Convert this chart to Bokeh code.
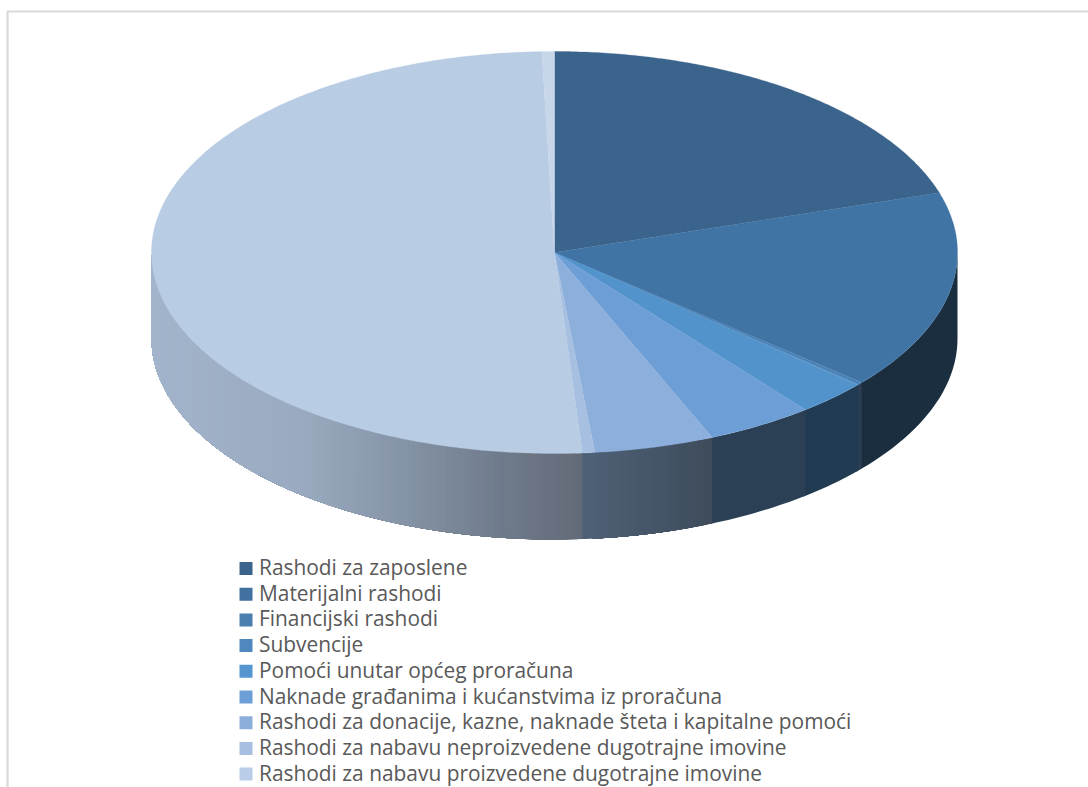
import numpy as np
from bokeh.plotting import figure
from bokeh.embed import file_html
from bokeh.resources import INLINE
from bokeh.models import Range1d
from bokeh.core.properties import value

legend_labels = [
    "Rashodi za zaposlene",
    "Materijalni rashodi",
    "Financijski rashodi",
    "Subvencije",
    "Pomoći unutar općeg proračuna",
    "Naknade građanima i kućanstvima iz proračuna",
    "Rashodi za donacije, kazne, naknade šteta i kapitalne pomoći",
    "Rashodi za nabavu neproizvedene dugotrajne imovine",
    "Rashodi za nabavu proizvedene dugotrajne imovine",
]
# shares in percent, clockwise from 12 o'clock; the tenth slice's legend row is cut off in the source
shares = [20.2, 16.0, 0.2, 0.05, 2.85, 4.3, 4.8, 0.5, 50.6, 0.5]

top_colors = ["#3a648c", "#4074a4", "#4a82b6", "#4f8ac2", "#5393cb", "#6d9fd6",
              "#8dafdb", "#a7c0e2", "#b8cce4", "#c8d6ea"]
legend_colors = ["#3a648c", "#40719f", "#4a7fb0", "#4f87be", "#5596d0", "#6c9fd8",
                 "#8caedb", "#a7c0e2", "#b9cde6"]
# wall shading per slice: stops (horizontal position on the pie -1..1, colour)
wall_stops = [
    [(0, "#1b2e3f")],
    [(0, "#1b2e3f")],
    [(0, "#2a3d52")],
    [(0, "#2a3d52")],
    [(0, "#213c52")],
    [(0, "#2b3f55")],
    [(0.10, "#4e5f75"), (0.39, "#3e4c5c")],
    [(0, "#4e6075")],
    [(-1.0, "#a2b4cb"), (-0.63, "#9aaac0"), (-0.43, "#8a99ac"), (-0.13, "#6f7b8b"), (0.07, "#636a78")],
    [(0, "#a2b4cb")],
]

CX, CY, RX, RY, DEPTH = 554.0, 252.0, 403.0, 201.0, 86.0
FONT = "Open Sans"


def rim(a_deg):
    a = np.radians(a_deg)
    return CX + RX * np.sin(a), CY - RY * np.cos(a)


def hex2rgb(h):
    return np.array([int(h[i:i + 2], 16) for i in (1, 3, 5)], float)


def wall_color(stops, u):
    if len(stops) == 1:
        return stops[0][1]
    us = [s[0] for s in stops]
    cs = np.array([hex2rgb(s[1]) for s in stops])
    rgb = [np.interp(u, us, cs[:, k]) for k in range(3)]
    return "#%02x%02x%02x" % tuple(int(round(v)) for v in rgb)


p = figure(width=1088, height=787, output_backend="svg", toolbar_location=None,
           x_range=Range1d(0, 1088), y_range=Range1d(787, 0),
           min_border=0, outline_line_color=None, background_fill_color="white")
p.xaxis.visible = False
p.yaxis.visible = False
p.grid.visible = False

# frame of the chart area (open to the right and bottom)
p.line([7, 7, 1088], [787, 11, 11], line_color="#d9d9d9", line_width=2.2)

# side wall: painter's order, each band reaches to the slice's end so no seams show
edges = 360.0 * np.cumsum([0] + shares) / sum(shares)
xs, ys, cols = [], [], []
for i in range(len(shares)):
    a0, a1 = max(edges[i], 90.0), min(edges[i + 1], 270.0)
    if a1 <= a0:
        continue
    n = 1 if len(wall_stops[i]) == 1 else max(1, int((a1 - a0) / 0.7))
    starts = np.linspace(a0, a1, n + 1)[:-1]
    for s in starts:
        g = np.linspace(s, a1 + 0.3, max(3, int(a1 - s) + 3))
        rx, ry = rim(g)
        xs.append(list(rx) + list(rx[::-1]))
        ys.append(list(ry) + list((ry + DEPTH)[::-1]))
        xm = rim(s + (a1 - a0) / n / 2)[0]
        cols.append(wall_color(wall_stops[i], (xm - CX) / RX))
p.patches(xs, ys, fill_color=cols, line_color=None)

# top face
xs, ys = [], []
for i in range(len(shares)):
    g = np.linspace(edges[i], edges[i + 1], max(2, int(edges[i + 1] - edges[i]) * 2 + 2))
    rx, ry = rim(g)
    xs.append([CX] + list(rx))
    ys.append([CY] + list(ry))
p.patches(xs, ys, fill_color=top_colors, line_color=top_colors, line_width=0.3)

# legend
row_y = [568 + 25.7 * i for i in range(len(legend_labels))]
p.rect([245.5] * len(row_y), row_y, width=13, height=13, fill_color=legend_colors, line_color=None)
p.text([258.5] * len(row_y), [y - 1.5 for y in row_y], text=legend_labels,
       text_font=value(FONT), text_font_size="20.9px", text_color="#595959",
       text_baseline="middle", text_align="left")

open("out.html", "w").write(file_html(p, INLINE))
